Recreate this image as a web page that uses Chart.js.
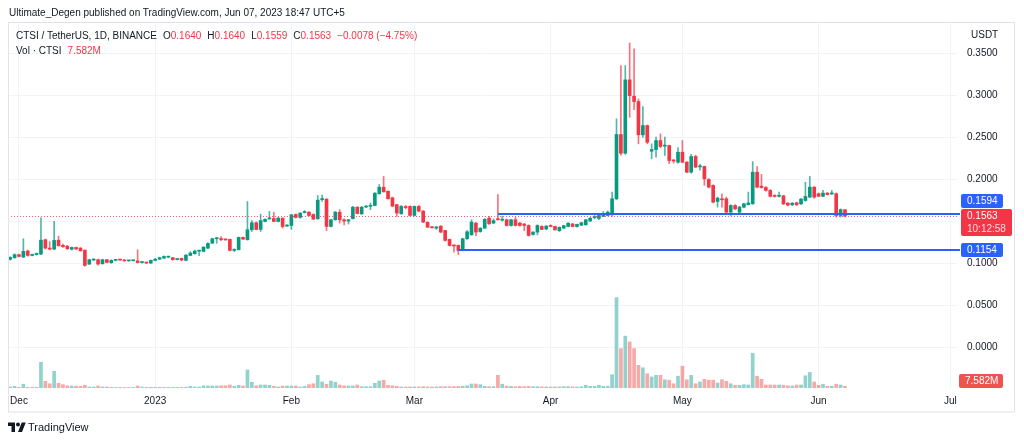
<!DOCTYPE html>
<html>
<head>
<meta charset="utf-8">
<script src="https://cdn.jsdelivr.net/npm/chart.js@4.4.0/dist/chart.umd.min.js"></script>
<style>
  html, body { margin: 0; padding: 0; background: #fff; }
  #wrap { position: relative; width: 1024px; height: 443px; overflow: hidden;
          font-family: "Liberation Sans", Arial, sans-serif; color: #131722; }
  #chart { position: absolute; left: 0; top: 0; }
  .txt { position: absolute; white-space: nowrap; font-size: 10px; line-height: 12px; }
  .red { color: #F23645; }
  .gap { margin-left: 6px; }
</style>
</head>
<body>
<div id="wrap">
  <canvas id="chart" width="1024" height="443"></canvas>
  <div class="txt" style="left:9px; top:7px;">Ultimate_Degen published on TradingView.com, Jun 07, 2023 18:47 UTC+5</div>
  <div class="txt" style="left:16px; top:30px;">CTSI / TetherUS, 1D, BINANCE<span class="gap">O<span class="red">0.1640</span></span><span class="gap">H<span class="red">0.1640</span></span><span class="gap">L<span class="red">0.1559</span></span><span class="gap">C<span class="red">0.1563</span></span><span class="gap red">&minus;0.0078 (&minus;4.75%)</span></div>
  <div class="txt" style="left:16px; top:45px;">Vol &middot; CTSI<span class="gap red">7.582M</span></div>
  <div class="txt" style="left:971px; top:29px;">USDT</div>
  <div class="txt" style="left:8px; top:420px; font-size:11px; line-height:14px;">
    <svg width="18" height="12" viewBox="0 0 36 24" style="vertical-align:-2px"><path d="M14 22H7V10H0V3h14v19zM28 22h-8l7.5-19h8L28 22z" fill="#131722"/><circle cx="20" cy="7" r="4" fill="#131722"/></svg><span style="margin-left:2px">TradingView</span>
  </div>
</div>
<script>
// CTSI / USDT, 1D, Binance, 29 Nov 2022 .. 7 Jun 2023
const opens = [
  .1048,.1068,.1104,.1075,.1147,.1095,.1105,.1111,.1282,.1182,
  .1170,.1277,.1214,.1205,.1168,.1190,.1182,.1158,.0992,.1040,
  .1044,.0996,.1044,.1008,.1036,.1042,.1040,.1030,.1032,.1030,
  .1010,.1012,.1004,.1036,.1050,.1063,.1075,.1068,.1046,.1060,
  .1036,.1095,.1115,.1145,.1143,.1182,.1242,.1294,.1296,.1284,
  .1286,.1155,.1163,.1310,.1282,.1401,.1484,.1405,.1500,.1530,
  .1535,.1500,.1539,.1445,.1452,.1583,.1548,.1605,.1611,.1583,
  .1532,.1760,.1766,.1440,.1520,.1610,.1520,.1505,.1532,.1670,
  .1590,.1672,.1680,.1690,.1830,.1908,.1860,.1782,.1700,.1592,
  .1672,.1679,.1572,.1679,.1623,.1490,.1435,.1420,.1444,.1393,
  .1286,.1212,.1214,.1155,.1294,.1341,.1480,.1380,.1420,.1539,
  .1480,.1525,.1515,.1520,.1452,.1520,.1480,.1470,.1452,.1345,
  .1373,.1440,.1410,.1445,.1440,.1390,.1420,.1440,.1470,.1440,
  .1455,.1460,.1505,.1545,.1536,.1560,.1571,.1590,.1770,.2536,
  .2313,.3187,.2992,.2929,.2532,.2643,.2337,.2357,.2464,.2398,
  .2405,.2226,.2206,.2325,.2206,.2087,.2274,.2150,.2155,.2000,
  .1929,.1738,.1760,.1770,.1611,.1690,.1611,.1670,.1700,.1710,
  .2087,.1920,.1905,.1870,.1805,.1800,.1805,.1718,.1698,.1722,
  .1710,.1750,.1790,.1909,.1830,.1800,.1838,.1828,.1830,.1571,
  .1640
];
const highs = [
  .1080,.1115,.1110,.1294,.1160,.1112,.1125,.1544,.1290,.1260,
  .1500,.1325,.1230,.1215,.1195,.1195,.1190,.1160,.1050,.1055,
  .1050,.1050,.1048,.1042,.1048,.1046,.1044,.1036,.1040,.1163,
  .1022,.1016,.1040,.1060,.1075,.1090,.1085,.1072,.1056,.1064,
  .1105,.1140,.1160,.1158,.1200,.1245,.1300,.1310,.1320,.1290,
  .1290,.1175,.1315,.1315,.1738,.1510,.1495,.1587,.1530,.1620,
  .1610,.1548,.1545,.1462,.1585,.1590,.1605,.1630,.1618,.1590,
  .1810,.1815,.1772,.1525,.1620,.1640,.1530,.1525,.1680,.1675,
  .1680,.1690,.1720,.1845,.1940,.2036,.1865,.1790,.1705,.1690,
  .1690,.1685,.1685,.1690,.1630,.1495,.1440,.1440,.1450,.1395,
  .1290,.1220,.1220,.1300,.1390,.1520,.1490,.1425,.1535,.1560,
  .1530,.1821,.1560,.1530,.1525,.1550,.1490,.1475,.1460,.1380,
  .1460,.1450,.1450,.1460,.1445,.1435,.1455,.1485,.1478,.1470,
  .1490,.1525,.1545,.1570,.1590,.1620,.1625,.1849,.2723,.3357,
  .3357,.3627,.3556,.2960,.2869,.2650,.2425,.2504,.2544,.2504,
  .2410,.2240,.2380,.2464,.2215,.2300,.2290,.2180,.2160,.2010,
  .1935,.1790,.1830,.1790,.1700,.1700,.1680,.1720,.1850,.2214,
  .2155,.2060,.1915,.1880,.1820,.1850,.1812,.1725,.1725,.1730,
  .1775,.1968,.2036,.1915,.1840,.1870,.1845,.1870,.1840,.1650,
  .1640
];
const lows = [
  .1040,.1060,.1078,.1070,.1085,.1090,.1100,.1105,.1170,.1160,
  .1165,.1205,.1190,.1165,.1160,.1165,.1145,.0968,.0985,.1035,
  .0980,.0990,.1005,.1002,.1030,.1036,.1025,.1026,.1028,.1005,
  .1004,.0998,.1000,.1030,.1045,.1058,.1066,.1038,.1040,.1030,
  .1030,.1090,.1110,.1091,.1138,.1176,.1236,.1240,.1270,.1275,
  .1150,.1140,.1160,.1282,.1278,.1380,.1400,.1380,.1495,.1525,
  .1495,.1495,.1420,.1440,.1405,.1540,.1540,.1600,.1565,.1520,
  .1525,.1740,.1390,.1435,.1515,.1480,.1460,.1470,.1530,.1590,
  .1585,.1665,.1640,.1685,.1825,.1850,.1765,.1675,.1560,.1585,
  .1650,.1565,.1565,.1615,.1485,.1425,.1420,.1405,.1365,.1265,
  .1205,.1134,.1105,.1150,.1285,.1335,.1330,.1370,.1415,.1465,
  .1475,.1515,.1505,.1445,.1445,.1445,.1445,.1390,.1325,.1335,
  .1340,.1400,.1400,.1435,.1395,.1380,.1415,.1435,.1435,.1432,
  .1450,.1455,.1500,.1530,.1520,.1555,.1565,.1560,.1760,.2290,
  .2300,.2742,.2833,.2425,.2500,.2425,.2246,.2266,.2380,.2286,
  .2190,.2195,.2195,.2200,.2080,.2075,.2140,.2110,.1930,.1900,
  .1720,.1671,.1670,.1600,.1571,.1640,.1600,.1660,.1695,.1705,
  .1900,.1895,.1860,.1790,.1790,.1790,.1700,.1685,.1690,.1690,
  .1700,.1740,.1785,.1775,.1795,.1795,.1815,.1820,.1551,.1551,
  .1559
];
const closes = [
  .1071,.1104,.1083,.1143,.1095,.1105,.1118,.1277,.1182,.1170,
  .1274,.1211,.1199,.1175,.1190,.1172,.1151,.0976,.1044,.1046,
  .0992,.1044,.1012,.1036,.1042,.1040,.1030,.1032,.1034,.1010,
  .1015,.1004,.1036,.1050,.1068,.1083,.1080,.1044,.1050,.1040,
  .1099,.1123,.1147,.1150,.1194,.1238,.1294,.1296,.1284,.1280,
  .1155,.1167,.1310,.1290,.1401,.1484,.1405,.1510,.1525,.1538,
  .1500,.1540,.1440,.1455,.1579,.1548,.1599,.1615,.1571,.1528,
  .1754,.1766,.1440,.1520,.1610,.1520,.1505,.1520,.1670,.1595,
  .1670,.1680,.1685,.1837,.1908,.1853,.1770,.1682,.1600,.1679,
  .1665,.1572,.1679,.1623,.1492,.1432,.1425,.1435,.1373,.1274,
  .1214,.1208,.1155,.1294,.1377,.1492,.1373,.1420,.1525,.1472,
  .1510,.1520,.1525,.1452,.1520,.1452,.1452,.1452,.1333,.1373,
  .1452,.1405,.1445,.1440,.1400,.1430,.1450,.1480,.1440,.1465,
  .1485,.1520,.1540,.1548,.1571,.1575,.1611,.1770,.2536,.2313,
  .3187,.3000,.2929,.2532,.2643,.2444,.2357,.2464,.2393,.2405,
  .2226,.2220,.2325,.2206,.2087,.2274,.2147,.2152,.2008,.1909,
  .1730,.1778,.1758,.1611,.1690,.1650,.1671,.1710,.1720,.2087,
  .1909,.1905,.1870,.1800,.1798,.1810,.1710,.1695,.1718,.1698,
  .1766,.1798,.1909,.1790,.1800,.1838,.1820,.1832,.1571,.1641,
  .1563
];
// volume, millions of CTSI
const volumesM = [
  4.5,7.6,3,17,3,3,3,116,30,19,
  75,21,15,10,9,8,8,12,4.5,4.5,
  9,4.5,4.5,3,2.5,2.5,2.5,2.5,2.5,9,
  4.5,3,3,3,3,3,3,3,3,3,
  3.5,7.6,4.5,4.5,10,9,9,9,10,10,
  13.5,7.6,12,9,81,26,10,13.5,13.5,12,
  7.6,4.5,9,9,9,9,4.5,7.6,15,19,
  57,27,17,31.5,26,13.5,10,9,9,13.5,
  6,6,6,21,31.5,35,12,10,7.6,4.5,
  4.5,5,4.5,5,6,5,4.5,5,6,6,
  6,6,7,8,10,18,18,15,7.6,6,
  6,57,17,9,7.6,6,7,6,7.6,6,
  6,5,5,4.5,5,5,6,6,5,4.5,
  6,12,7.6,7.6,12,7.6,7.6,60,406,177,
  233,207,177,102,91,64,50,57,57,37,
  35,19,53,98,37,57,19,27,39,35,
  35,22.5,37,30,19,12,12,15,13.5,156,
  53,39,13.5,13.5,13.5,13.5,12,10,9,13.5,
  13.5,55,70,27,12,17,7.6,7.6,17,13.5,
  7.582
];

const priceTicks = [0, 0.05, 0.10, 0.15, 0.20, 0.25, 0.30, 0.35];
const hiddenPriceTick = 0.15;   // covered by the price badges
const monthTickDates = ['2022-12-01','2023-01-01','2023-02-01','2023-03-01','2023-04-01','2023-05-01','2023-06-01','2023-07-01'];
const monthTickLabels = ['Dec','2023','Feb','Mar','Apr','May','Jun','Jul'];

// horizontal rays drawn on the chart
const rays = [
  { value: 0.1594, from: '2023-03-20' },
  { value: 0.1154, from: '2023-03-11' }
];
const lastClose = 0.1563;
const lastVolLabel = '7.582M';
const countdown = '10:12:58';

// daily categories, incl. empty days up to early July
const firstDay = Date.UTC(2022, 10, 29);
const dayCount = 216;
const dates = [];
for (let i = 0; i < dayCount; i++) {
  dates.push(new Date(firstDay + i * 86400000).toISOString().slice(0, 10));
}

const UP = '#089981', DOWN = '#F23645';
const WICK_UP = 'rgba(8,153,129,0.7)', WICK_DOWN = 'rgba(242,54,69,0.7)';
const VOL_UP = 'rgba(38,166,154,0.5)', VOL_DOWN = 'rgba(239,83,80,0.5)';
const isUp = i => closes[i] >= opens[i];

const wickData = lows.map((l, i) => [l, highs[i]]);
const bodyData = opens.map((o, i) => [o, closes[i]]);
const candleColors = opens.map((o, i) => isUp(i) ? UP : DOWN);
const wickColors = opens.map((o, i) => isUp(i) ? WICK_UP : WICK_DOWN);
const volColors = opens.map((o, i) => isUp(i) ? VOL_UP : VOL_DOWN);

Chart.defaults.font.family = '"Liberation Sans", Arial, sans-serif';
Chart.defaults.font.size = 10;
Chart.defaults.color = '#131722';

function badge(ctx, x, y, w, h, bg, lines) {
  ctx.fillStyle = bg;
  ctx.beginPath();
  ctx.roundRect(x, y, w, h, 2);
  ctx.fill();
  ctx.textBaseline = 'middle';
  ctx.textAlign = 'left';
  ctx.font = '10px "Liberation Sans", Arial, sans-serif';
  lines.forEach((ln, k) => {
    ctx.fillStyle = ln.color;
    ctx.fillText(ln.text, x + 6, y + 7 + k * 13);
  });
}

const overlay = {
  id: 'overlay',
  afterDatasetsDraw(chart) {
    const { ctx, chartArea: a, scales } = chart;
    const x = scales.x, y = scales.y;
    ctx.save();
    // last price, dotted
    const yc = Math.round(y.getPixelForValue(lastClose)) + 0.5;
    ctx.strokeStyle = 'rgba(242,54,69,0.8)';
    ctx.lineWidth = 1;
    ctx.setLineDash([1, 2]);
    ctx.beginPath();
    ctx.moveTo(a.left, yc);
    ctx.lineTo(a.right, yc);
    ctx.stroke();
    ctx.setLineDash([]);
    // support / resistance rays
    ctx.strokeStyle = '#2962FF';
    ctx.lineWidth = 2;
    rays.forEach(r => {
      const yy = Math.round(y.getPixelForValue(r.value));
      ctx.beginPath();
      ctx.moveTo(x.getPixelForValue(dates.indexOf(r.from)), yy);
      ctx.lineTo(a.right + 3, yy);
      ctx.stroke();
    });
    ctx.restore();
  },
  afterDraw(chart) {
    const { ctx, chartArea: a, scales } = chart;
    const y = scales.y, v = scales.vol;
    ctx.save();
    const bx = a.right + 4;
    const yc = y.getPixelForValue(lastClose);
    const redTop = Math.round(yc - 7);
    badge(ctx, bx, redTop, 51, 27, DOWN, [
      { text: lastClose.toFixed(4), color: '#fff' },
      { text: countdown, color: 'rgba(255,255,255,0.82)' }
    ]);
    const yHi = y.getPixelForValue(rays[0].value);
    const hiTop = Math.min(Math.round(yHi - 7), redTop - 15);
    badge(ctx, bx, hiTop, 42, 14, '#2962FF', [{ text: rays[0].value.toFixed(4), color: '#fff' }]);
    const yLo = y.getPixelForValue(rays[1].value);
    badge(ctx, bx, Math.round(yLo - 7), 42, 14, '#2962FF', [{ text: rays[1].value.toFixed(4), color: '#fff' }]);
    const yv = v.getPixelForValue(volumesM[volumesM.length - 1]);
    badge(ctx, bx - 2, Math.min(Math.round(yv - 7), a.bottom - 14), 44, 14, '#EF5350',
      [{ text: lastVolLabel, color: '#fff' }]);
    // frame
    ctx.strokeStyle = '#e0e3eb';
    ctx.lineWidth = 1;
    ctx.strokeRect(8.5, 22.5, 1006, 389.5);
    ctx.restore();
  }
};

new Chart(document.getElementById('chart'), {
  type: 'bar',
  data: {
    labels: dates,
    datasets: [
      { label: 'Body', data: bodyData, backgroundColor: candleColors, barThickness: 3,
        minBarLength: 1, grouped: false, order: 1, yAxisID: 'y' },
      { label: 'Wick', data: wickData, backgroundColor: wickColors, barThickness: 1,
        grouped: false, order: 2, yAxisID: 'y' },
      { label: 'Volume', data: volumesM, backgroundColor: volColors, barThickness: 3,
        grouped: false, order: 3, yAxisID: 'vol' }
    ]
  },
  options: {
    responsive: false,
    animation: false,
    layout: { padding: { left: 8, right: 9, top: 23, bottom: 31 } },
    plugins: { legend: { display: false }, tooltip: { enabled: false } },
    scales: {
      x: {
        offset: true,
        grid: { color: '#f0f3fa', offset: false, drawTicks: false },
        border: { display: false },
        afterBuildTicks: s => { s.ticks = monthTickDates.map(d => ({ value: dates.indexOf(d) })); },
        afterFit: s => { s.height = 24; },
        ticks: {
          autoSkip: false, maxRotation: 0, padding: 7,
          callback: v => monthTickLabels[monthTickDates.indexOf(dates[v])]
        }
      },
      y: {
        position: 'right',
        min: -0.0485, max: 0.3865,
        grid: { color: '#f0f3fa', drawTicks: false },
        border: { display: false },
        afterBuildTicks: s => { s.ticks = priceTicks.map(p => ({ value: p })); },
        afterFit: s => { s.width = 58; },
        ticks: {
          padding: 10,
          callback: p => Math.abs(p - hiddenPriceTick) < 1e-9 ? '' : p.toFixed(4)
        }
      },
      vol: { display: false, min: 0, max: 1640 }
    }
  },
  plugins: [overlay]
});
</script>
</body>
</html>
